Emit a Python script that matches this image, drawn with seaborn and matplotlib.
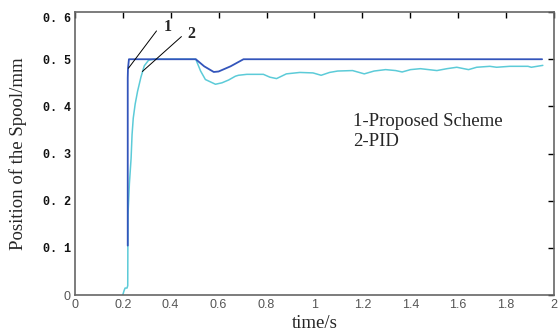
import matplotlib
matplotlib.use("Agg")
import matplotlib.pyplot as plt
import seaborn as sns
import pandas as pd

# curve 1 - proposed scheme
t_proposed = [0.221, 0.221, 0.222, 0.226, 0.505, 0.54, 0.58, 0.60, 0.65, 0.704, 1.95]
pos_proposed = [0.105, 0.46, 0.48, 0.5, 0.5, 0.485, 0.473, 0.474, 0.485, 0.5, 0.5]

# curve 2 - PID
t_pid = [0.200, 0.206, 0.210, 0.218, 0.221, 0.222, 0.228, 0.235, 0.239, 0.244,
         0.252, 0.262, 0.276, 0.290, 0.308, 0.330, 0.505, 0.525, 0.545, 0.587,
         0.614, 0.642, 0.670, 0.683, 0.718, 0.787, 0.814, 0.842, 0.883, 0.939,
         0.994, 1.028, 1.063, 1.097, 1.159, 1.208, 1.249, 1.297, 1.339, 1.366,
         1.401, 1.442, 1.511, 1.553, 1.594, 1.643, 1.677, 1.732, 1.760, 1.815,
         1.891, 1.905, 1.953]
pos_pid = [0.000, 0.010, 0.015, 0.015, 0.020, 0.170, 0.237, 0.290, 0.340, 0.375,
           0.405, 0.432, 0.462, 0.486, 0.498, 0.500, 0.500, 0.475, 0.457, 0.447,
           0.450, 0.456, 0.464, 0.466, 0.468, 0.468, 0.462, 0.459, 0.469, 0.472,
           0.471, 0.466, 0.472, 0.475, 0.476, 0.469, 0.475, 0.478, 0.476, 0.473,
           0.478, 0.480, 0.476, 0.480, 0.483, 0.478, 0.483, 0.485, 0.483, 0.485,
           0.485, 0.483, 0.487]

x_ticks = [0, 0.2, 0.4, 0.6, 0.8, 1, 1.2, 1.4, 1.6, 1.8, 2]
x_labels = ["0", "0.2", "0.4", "0.6", "0.8", "1", "1.2", "1.4", "1.6", "1.8", "2"]
y_ticks = [0, 0.1, 0.2, 0.3, 0.4, 0.5, 0.6]
y_labels = ["0", "0. 1", "0. 2", "0. 3", "0. 4", "0. 5", "0. 6"]

sns.set_theme(style="white")
plt.rcParams["font.family"] = ["Liberation Serif", "DejaVu Serif"]

fig = plt.figure(figsize=(5.58, 3.35), dpi=100)
ax = fig.add_axes([0.134, 0.119, 0.859, 0.845])

df1 = pd.DataFrame({"t": t_proposed, "pos": pos_proposed})
df2 = pd.DataFrame({"t": t_pid, "pos": pos_pid})
sns.lineplot(data=df2, x="t", y="pos", ax=ax, color="#5ccbd8", lw=1.1,
             estimator=None, sort=False)
sns.lineplot(data=df1, x="t", y="pos", ax=ax, color="#3355bb", lw=1.3,
             estimator=None, sort=False)

ax.set_xlim(0, 2)
ax.set_ylim(0, 0.597)
ax.set_xticks(x_ticks)
ax.set_xticklabels(x_labels, family="Liberation Sans", fontsize=9, color="#555555")
ax.set_yticks(y_ticks)
# top label sits a little lower in the original, drawn separately below
ax.set_yticklabels(y_labels[:-1] + [""])
for i, lab in enumerate(ax.get_yticklabels()):
    if i == 0:
        lab.set_family("Liberation Sans")
        lab.set_fontsize(9)
        lab.set_color("#555555")
    else:
        lab.set_family("Liberation Mono")
        lab.set_fontweight("bold")
        lab.set_fontsize(8.5)
        lab.set_color("#111111")
ax.annotate(y_labels[-1], xy=(0, y_ticks[-1]), xytext=(-3, -5),
            textcoords="offset points", ha="right", va="center",
            family="Liberation Mono", fontweight="bold", fontsize=8.5,
            color="#111111", annotation_clip=False)

ax.tick_params(direction="in", length=4, width=1, color="black",
               top=True, right=True, pad=3)
for s in ax.spines.values():
    s.set_color("#666666")
    s.set_linewidth(1.2)

ax.set_xlabel("time/s", fontsize=13.5, labelpad=3)
ax.set_ylabel("Position of the Spool/mm", fontsize=13.5, labelpad=11)

# callouts
ax.plot([0.224, 0.341], [0.481, 0.56], color="black", lw=0.7)
ax.plot([0.282, 0.445], [0.474, 0.548], color="black", lw=0.7)
ax.text(0.389, 0.569, "1", fontsize=11.5, fontweight="bold", ha="center", va="center")
ax.text(0.487, 0.553, "2", fontsize=11.5, fontweight="bold", ha="center", va="center")

ax.text(1.16, 0.369, "1-Proposed Scheme", fontsize=13.5, va="center")
ax.text(1.16, 0.325, "2-PID", fontsize=13.5, va="center")

fig.savefig("out.png", dpi=100)
